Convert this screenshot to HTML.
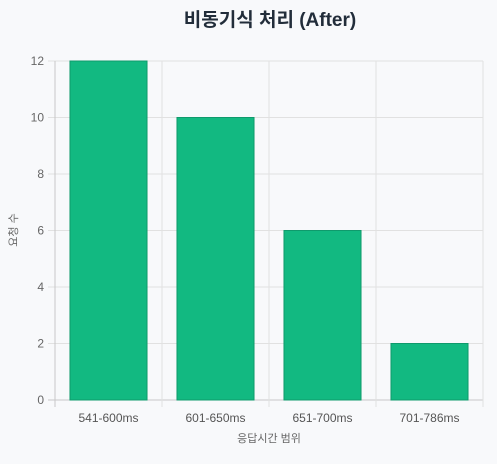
<!DOCTYPE html>
<html><head><meta charset="utf-8"><style>
body{margin:0;background:#f8f9fb;font-family:"Liberation Sans","Noto Sans CJK KR",sans-serif;}
</style></head><body>
<svg id="chart" width="497" height="459" xmlns="http://www.w3.org/2000/svg">
<rect width="497" height="459" fill="#f8f9fb"/>
<text x="270" y="26" text-anchor="middle" font-size="19" font-weight="bold" fill="#222d3a" font-family="Liberation Sans, Noto Sans CJK KR, sans-serif">비동기식 처리 (After)</text>
<g id="grid"></g><g id="bars"></g><g id="labels"></g>
<text x="17" y="230" transform="rotate(-90 17 230)" text-anchor="middle" font-size="11" fill="#666" font-family="Liberation Sans, Noto Sans CJK KR, sans-serif">요청 수</text>
<text x="269" y="442" text-anchor="middle" font-size="11" fill="#666" font-family="Liberation Sans, Noto Sans CJK KR, sans-serif">응답시간 범위</text>
</svg>
<script>
const categories = ["541-600ms","601-650ms","651-700ms","701-786ms"];
const values = [12,10,6,2];
const yTicks = [0,2,4,6,8,10,12];
const NS="http://www.w3.org/2000/svg";
const L=55,R=483,T=61,B=400,yMax=12;
const y=v=>B-(v/yMax)*(B-T);
const bw=(R-L)/categories.length;
const x=i=>L+i*bw;
function mk(tag,attrs,parent,text){const e=document.createElementNS(NS,tag);for(const k in attrs)e.setAttribute(k,attrs[k]);if(text!==undefined)e.textContent=text;document.getElementById(parent).appendChild(e);return e;}
yTicks.forEach(t=>{
  const g=mk('line',{x1:L-7,x2:R,y1:y(t),y2:y(t),stroke:t===0?'#c8c8c8':'#e1e1e1','stroke-width':1},'grid');
  
  
  const lb=mk('text',{x:L-11,y:y(t)+4,'text-anchor':'end','font-size':12,fill:'#666'},'labels',String(t));
  
  
});
for(let i=0;i<=categories.length;i++){
  const g=mk('line',{x1:x(i),x2:x(i),y1:T,y2:B+7,stroke:i===0?'#c8c8c8':'#e1e1e1','stroke-width':1},'grid');
  
  
}
categories.forEach((c,i)=>{
  const w=bw*0.72, bx=x(i)+(bw-w)/2;
  const r=mk('rect',{x:bx,y:y(values[i]),width:w,height:B-y(values[i]),fill:'#12b981',stroke:'#0f9a6c','stroke-width':1},'bars');
  
  
  const lb=mk('text',{x:x(i)+bw/2,y:B+22,'text-anchor':'middle','font-size':12,fill:'#555'},'labels',c);
  
  
});
</script>
</body></html>
